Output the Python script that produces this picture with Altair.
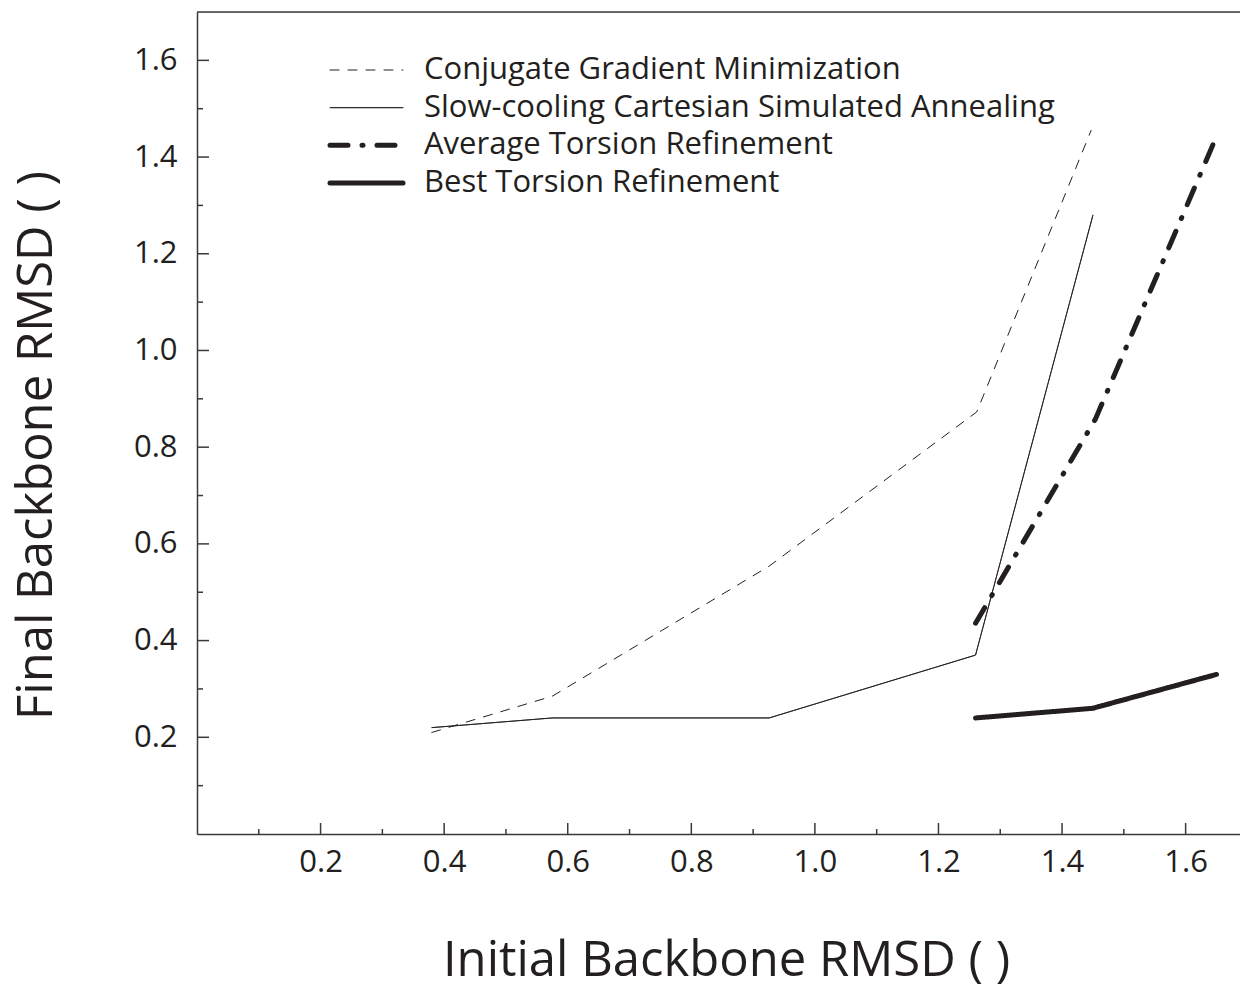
import altair as alt
import pandas as pd

# ---- data ----
series_names = [
    "Conjugate Gradient Minimization",
    "Slow-cooling Cartesian Simulated Annealing",
    "Average Torsion Refinement",
    "Best Torsion Refinement",
]
cg_x = [0.38, 0.575, 0.926, 1.262, 1.447]
cg_y = [0.21, 0.285, 0.554, 0.873, 1.455]
sa_x = [0.38, 0.575, 0.926, 1.26, 1.45]
sa_y = [0.22, 0.24, 0.24, 0.37, 1.28]
avg_x = [1.26, 1.454, 1.647]
avg_y = [0.436, 0.858, 1.434]
best_x = [1.26, 1.45, 1.65]
best_y = [0.24, 0.26, 0.33]

x_labels = [0.2, 0.4, 0.6, 0.8, 1.0, 1.2, 1.4, 1.6]
x_minor = [0.1, 0.3, 0.5, 0.7, 0.9, 1.1, 1.3, 1.5]
y_labels = [0.2, 0.4, 0.6, 0.8, 1.0, 1.2, 1.4, 1.6]
y_minor = [0.1, 0.3, 0.5, 0.7, 0.9, 1.1, 1.3, 1.5]

rows = []
for name, xs, ys in zip(series_names, [cg_x, sa_x, avg_x, best_x], [cg_y, sa_y, avg_y, best_y]):
    for i, (a, b) in enumerate(zip(xs, ys)):
        rows.append({"series": name, "x": a, "y": b, "order": i})
df = pd.DataFrame(rows)
leg_df = pd.DataFrame({"series": series_names})

W, H = 1043, 822
INK = "#231f20"
AX = "#3a3a3a"
FONT = "Open Sans"

xscale = alt.Scale(domain=[0, 1.688], nice=False, zero=False)
yscale = alt.Scale(domain=[0, 1.70], nice=False, zero=False)
dash_scale = alt.Scale(type="ordinal", domain=series_names,
                       range=[[9, 9], [1, 0], [18, 14, 1, 14], [1, 0]])
width_scale = alt.Scale(type="ordinal", domain=series_names, range=[1, 1, 5, 5])
# legend rows: point scale placing the four entries in the upper-left of the plot
leg_y = alt.Scale(type="point", domain=series_names, range=[58, 171], padding=0)

lines = alt.Chart(df).mark_line(strokeCap="round", strokeJoin="round", color=INK).encode(
    x=alt.X("x:Q", scale=xscale,
            axis=alt.Axis(values=x_labels, format=".1f", ticks=False, grid=False,
                          domainColor=AX, domainWidth=1.5,
                          labelFont=FONT, labelFontSize=31, labelColor=INK, labelPadding=13,
                          title="Initial Backbone RMSD ( )", titleFont=FONT, titleFontSize=49,
                          titleFontWeight="normal", titleColor=INK,
                          titleX=529, titleAlign="center",
                          titleY=141, titleBaseline="alphabetic")),
    y=alt.Y("y:Q", scale=yscale,
            axis=alt.Axis(values=y_labels, format=".1f", ticks=False, grid=False,
                          domainColor=AX, domainWidth=1.5,
                          labelFont=FONT, labelFontSize=31, labelColor=INK, labelPadding=20,
                          title="Final Backbone RMSD ( )", titleFont=FONT, titleFontSize=49,
                          titleFontWeight="normal", titleColor=INK,
                          titleX=-146, titleY=433, titleAngle=-90, titleAlign="center",
                          titleBaseline="alphabetic")),
    order="order:Q",
    strokeDash=alt.StrokeDash("series:N", sort=series_names, scale=dash_scale, legend=None),
    strokeWidth=alt.StrokeWidth("series:N", sort=series_names, scale=width_scale, legend=None),
)

leg_sym = alt.Chart(leg_df).mark_rule(strokeCap="round", color=INK).encode(
    y=alt.Y("series:N", sort=series_names, scale=leg_y, axis=None),
    x=alt.value(133), x2=alt.value(206),
    strokeDash=alt.StrokeDash("series:N", sort=series_names, scale=dash_scale, legend=None),
    strokeWidth=alt.StrokeWidth("series:N", sort=series_names, scale=width_scale, legend=None),
)
leg_txt = alt.Chart(leg_df).mark_text(align="left", baseline="middle", font=FONT,
                                      fontSize=31, color=INK).encode(
    y=alt.Y("series:N", sort=series_names, scale=leg_y, axis=None),
    x=alt.value(227),
    text="series:N",
)

tick_df_xmaj = pd.DataFrame({"v": x_labels})
tick_df_xmin = pd.DataFrame({"v": x_minor})
tick_df_ymaj = pd.DataFrame({"v": y_labels})
tick_df_ymin = pd.DataFrame({"v": y_minor})

xt_major = alt.Chart(tick_df_xmaj).mark_rule(color=AX, strokeWidth=1.5).encode(
    x=alt.X("v:Q", scale=xscale), y=alt.value(H), y2=alt.value(H - 11))
xt_minor = alt.Chart(tick_df_xmin).mark_rule(color=AX, strokeWidth=1.5).encode(
    x=alt.X("v:Q", scale=xscale), y=alt.value(H), y2=alt.value(H - 5))
yt_major = alt.Chart(tick_df_ymaj).mark_rule(color=AX, strokeWidth=1.5).encode(
    y=alt.Y("v:Q", scale=yscale, axis=None), x=alt.value(0), x2=alt.value(12))
yt_minor = alt.Chart(tick_df_ymin).mark_rule(color=AX, strokeWidth=1.5).encode(
    y=alt.Y("v:Q", scale=yscale, axis=None), x=alt.value(0), x2=alt.value(6))
top_border = alt.Chart(pd.DataFrame({"v": [0]})).mark_rule(color=AX, strokeWidth=1.5).encode(
    y=alt.value(0), x=alt.value(0), x2=alt.value(W))

chart = alt.layer(lines, xt_major, xt_minor, yt_major, yt_minor, top_border,
                  leg_sym, leg_txt).resolve_scale(y="independent").properties(
    width=W, height=H,
    autosize=alt.AutoSizeParams(type="none"),
    padding={"left": 197, "top": 12, "right": 0, "bottom": 154},
).configure_view(stroke=None).configure(background="white")

chart.save("out.html", embed_options={"renderer": "svg", "actions": False})
